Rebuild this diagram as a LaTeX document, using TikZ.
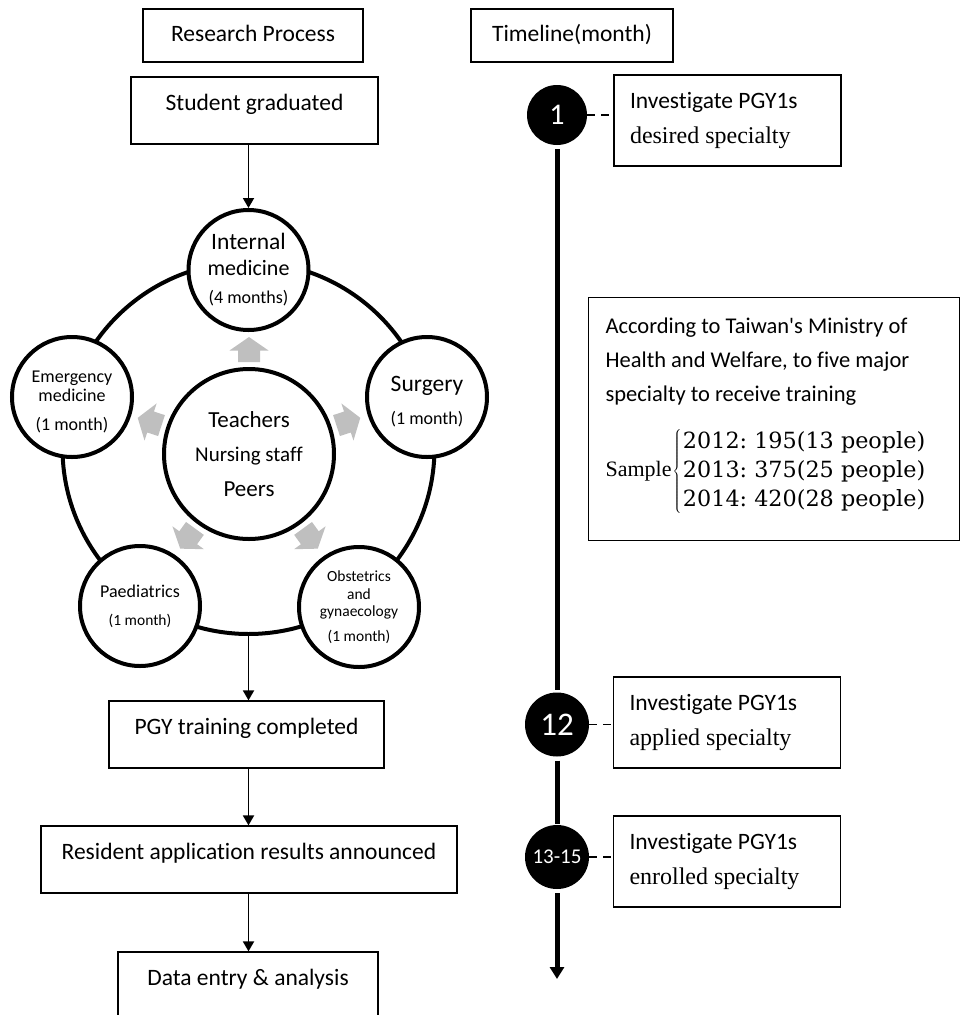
\documentclass[tikz,border=0pt]{standalone}
\usepackage{fontspec}
\setmainfont{Carlito}[Ligatures={TeXOff,NoCommon}]
\newfontfamily\tms{Liberation Serif}
\newfontfamily\dvs{DejaVu Serif}
\usetikzlibrary{arrows.meta}
\newcommand\fsz[2]{\fontsize{#1}{#2}\selectfont}
\newcommand\nsp{\spaceskip=0pt\xspaceskip=0pt\relax}
\begin{document}
\begin{tikzpicture}[x=1pt,y=-1pt,
  box/.style={draw, line width=1.2pt, inner xsep=4pt, inner ysep=0pt, font=\fsz{23.5}{28}},
  unit/.style={draw, circle, line width=4pt, fill=white, minimum size=120pt, inner sep=0pt, align=center},
  tbox/.style={draw, line width=1.2pt, minimum width=227pt, minimum height=91pt, text width=195pt, inner xsep=16pt, inner ysep=0pt, align=left, font=\fsz{23.5}{35}},
  tdot/.style={circle, fill=black, inner sep=0pt, text=white},
  arr/.style={line width=1.8pt, -{Triangle[width=11pt,length=10pt]}},
  tline/.style={line width=5pt},
  dsh/.style={line width=1.3pt, dash pattern=on 8pt off 6pt},
  garrow/.style={fill=black!25}
]
\useasboundingbox (0,0) rectangle (960,1015);
\clip (0,0) rectangle (960,1015);

% ---------- left column ----------
\node[box, minimum width=220pt, minimum height=53pt, text height=17pt, text depth=5pt] (rp) at (253,35.5) {Research Process};
\node[box, minimum width=247pt, minimum height=67pt, text height=33.5pt, text depth=33.5pt] (sg) at (254.5,110.5) {Student graduated};

\node[draw, circle, line width=4pt, minimum size=372pt, inner sep=0pt] (ring) at (248.5,448) {};

\node[unit, font=\fsz{18}{25.5}] (im) at (248.5,270) {{\fsz{23.5}{25}Internal}\\{\fsz{22}{25}medicine}\\[3pt]{\fsz{18}{22}(4 months)}};
\node[unit, font=\fsz{18}{18.5}] (em) at (72,397) {\rule{0pt}{21pt}Emergency\\medicine\\[10.5pt](1 month)};
\node[unit, font=\fsz{18}{33}] (su) at (427,397) {{\fsz{23.5}{25}\rule{0pt}{24.5pt}Surgery}\\(1 month)};
\node[unit, font=\fsz{18}{28}] (pa) at (140,606) {Paediatrics\\{\fsz{15.5}{20}(1 month)}};
\node[unit, font=\fsz{15.5}{17.7}] (ob) at (359,607) {Obstetrics\\and\\gynaecology\\[6.5pt](1 month)};
\node[unit, minimum size=170pt, font=\fsz{21}{34.5}] (ce) at (249,454) {{\fsz{23}{25}Teachers}\\Nursing staff\\{\fsz{23}{25}Peers}};

\foreach \ang in {90,162,18,234,306}{
  \begin{scope}[shift={(ce.center)}, rotate=\ang]
    \fill[garrow] (92,-11) -- (103.5,-11) -- (103.5,-19.5) -- (117,0) -- (103.5,19.5) -- (103.5,11) -- (92,11) -- cycle;
  \end{scope}
}

\node[box, minimum width=275pt, minimum height=67pt, text height=33.5pt, text depth=33.5pt] (pgy) at (246.5,734.5) {PGY training completed};
\node[box, minimum width=416pt, minimum height=67pt, text height=33.5pt, text depth=33.5pt] (res) at (249,859.5) {Resident application results announced};
\node[box, minimum width=260pt, minimum height=67pt, text height=33.5pt, text depth=33.5pt] (de) at (248,985.5) {Data entry \& analysis};

\draw[arr] (sg.south -| im.north) -- (im.north);
\draw[arr] (ring.south) -- (pgy.north -| ring.south);
\draw[arr] (pgy.south -| ring.south) -- (res.north -| ring.south);
\draw[arr] (res.south -| ring.south) -- (de.north -| ring.south);

% ---------- right column ----------
\node[box, minimum width=202pt, minimum height=53pt, text height=17pt, text depth=5pt] (tl) at (572,35.5) {Timeline(month)};

\node[tdot, minimum size=60pt, font=\fsz{30}{30}] (t1) at (557,115) {1};
\node[tdot, minimum size=64pt, font=\fsz{33}{33}] (t12) at (557,724.5) {12};
\node[tdot, minimum size=64pt, font=\fsz{21}{21}] (t13) at (557,857) {13-15};
\coordinate (tend) at (557,979);

\draw[tline, shorten <=4pt, shorten >=2pt] (t1) -- (t12);
\draw[tline, shorten <=4pt, shorten >=1pt] (t12) -- (t13);
\draw[tline, shorten <=4pt, -{Triangle[width=14pt,length=12pt]}] (t13) -- (tend);

\node[tbox] (b1) at (727.5,120.5) {\hbox{\nsp Investigate PGY1s}\\\hbox{\tms\fsz{24}{35}\nsp desired specialty}};
\node[tbox] (b12) at (727,722.5) {\hbox{\nsp Investigate PGY1s}\\\hbox{\tms\fsz{24}{35}\nsp applied specialty}};
\node[tbox] (b13) at (727,861.5) {\hbox{\nsp Investigate PGY1s}\\\hbox{\tms\fsz{24}{35}\nsp enrolled specialty}};

\draw[dsh] (t1.east) -- (t1.east -| b1.west);
\draw[dsh] (t12.east) -- (t12.east -| b12.west);
\draw[dsh] (t13.east) -- (t13.east -| b13.west);

\node[draw, line width=1.2pt, inner sep=0pt, anchor=north west] (info) at (588,297) {\parbox[t][243pt][t]{371pt}{\fsz{22.5}{34}\nsp\lineskiplimit=-100pt\leftskip=17pt\rule{0pt}{35.5pt}According to Taiwan's Ministry of\\Health and Welfare, to five major\\specialty to receive training\\[41.5pt]{\tms\fsz{22}{34}Sample}\kern1pt$\left\{\kern1.5pt\vcenter{\hbox{\lineskiplimit=0pt\dvs\fsz{22.3}{29}\begin{tabular}{@{}l@{}}2012:\ 195(13\ people)\\2013:\ 375(25\ people)\\2014:\ 420(28\ people)\end{tabular}}}\right.$}};
\end{tikzpicture}
\end{document}
